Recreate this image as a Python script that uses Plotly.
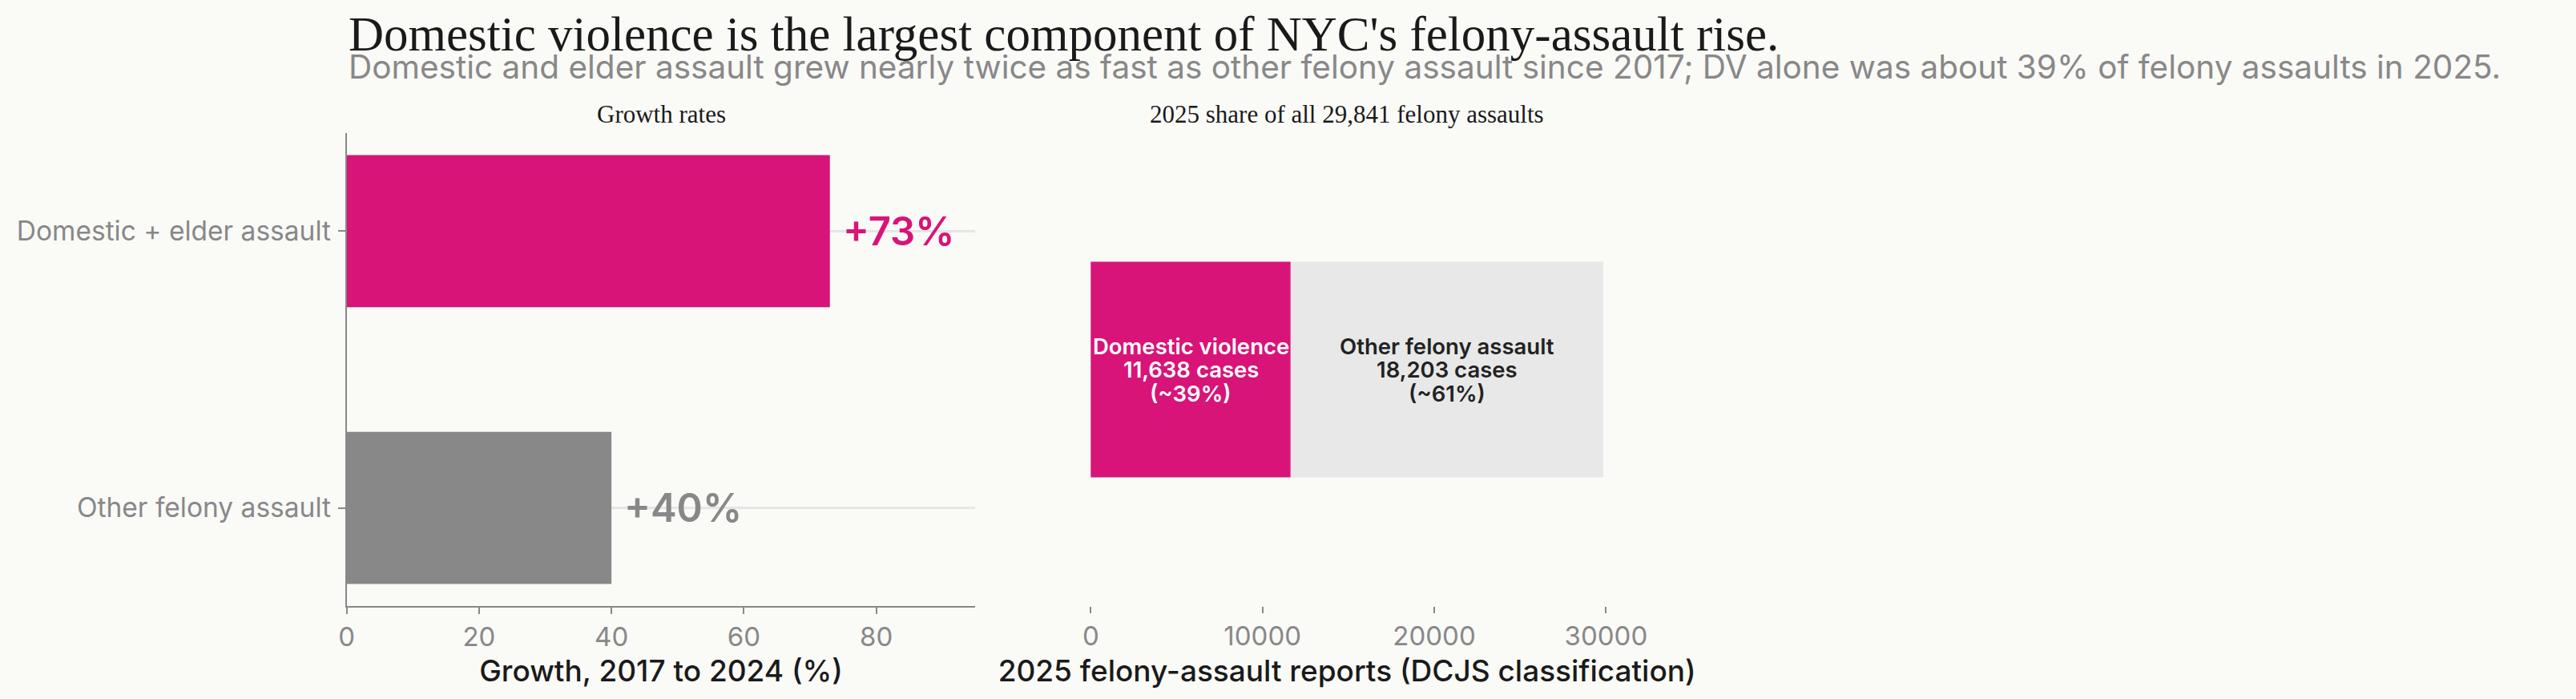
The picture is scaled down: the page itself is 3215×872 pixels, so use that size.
import plotly.graph_objects as go

# Growth 2017 -> 2024
growth_categories = ["Other felony assault", "Domestic + elder assault"]
growth_pct = [40, 73]
growth_labels = ["+40%", "+73%"]

# 2025 composition
share_row = "All 2025 felony assaults"
share_names = ["Domestic violence", "Other felony assault"]
share_counts = [11638, 18203]
share_pct = [39, 61]

MAGENTA = "#D81478"
GREY = "#888888"
LIGHT = "#E8E8E8"
BG = "#FAFAF7"
INK = "#1A1A1A"

# page body keeps its 8px margin, so the figure is a bit smaller than the window
W, H = 3215, 872
OFF = 8
FW, FH = W - 2 * OFF, H - 2 * OFF


def px_x(p):
    return (p - OFF) / FW


def px_y(p):
    return 1 - (p - OFF) / FH


fig = go.Figure()

# left panel: growth rates
fig.add_trace(go.Bar(
    y=growth_categories, x=growth_pct, orientation="h",
    marker=dict(color=[GREY, MAGENTA], line=dict(width=0)),
    width=0.55, xaxis="x", yaxis="y", showlegend=False, hoverinfo="skip",
))

for cat, val, lab, col in zip(growth_categories, growth_pct, growth_labels, [GREY, MAGENTA]):
    fig.add_annotation(
        x=val, y=cat, xref="x", yref="y", text=lab, showarrow=False,
        xanchor="left", yanchor="middle", xshift=14,
        font=dict(family="Inter", size=49, color=col, weight=600),
    )

# right panel: stacked share bar
share_colors = [MAGENTA, LIGHT]
share_text_colors = ["white", "#222222"]
start = 0
for name, cnt, pct, col, tcol in zip(share_names, share_counts, share_pct, share_colors, share_text_colors):
    fig.add_trace(go.Bar(
        y=[share_row], x=[cnt], base=[start], orientation="h",
        marker=dict(color=col, line=dict(width=0)), width=0.456,
        xaxis="x2", yaxis="y2", showlegend=False, hoverinfo="skip",
    ))
    # three label lines, tighter spacing than plotly's <br>
    lines = [name, f"{cnt:,} cases", f"(~{pct}%)"]
    for i, line in enumerate(lines):
        fig.add_annotation(
            x=start + cnt / 2, y=share_row, xref="x2", yref="y2",
            text=line, showarrow=False, xanchor="center", yanchor="middle",
            yshift=(1 - i) * 29.5,
            font=dict(family="Inter", size=27.5, color=tcol, weight=600),
        )
    start += cnt

total = sum(share_counts)

tick_font = dict(family="Inter", size=33, color=GREY)
axis_title_font = dict(family="Inter", size=37, color=INK, weight=500)

fig.update_layout(
    width=FW, height=FH,
    margin=dict(l=0, r=0, t=0, b=0),
    paper_bgcolor=BG, plot_bgcolor=BG,
    barmode="overlay",
    font=dict(family="Inter", color=GREY, size=30),
    xaxis=dict(
        domain=[px_x(427), px_x(1220)], range=[0, 95], anchor="y",
        tickvals=[0, 20, 40, 60, 80], showgrid=False, zeroline=False,
        showline=True, linecolor=GREY, linewidth=2,
        ticks="outside", ticklen=8, tickwidth=2, tickcolor=GREY,
        tickfont=tick_font,
        title=dict(text="Growth, 2017 to 2024 (%)", font=axis_title_font, standoff=12),
    ),
    yaxis=dict(
        domain=[px_y(756), px_y(166)], range=[-0.355, 1.355], anchor="x",
        showgrid=True, gridcolor="#E6E6E6", gridwidth=3, zeroline=False,
        showline=True, linecolor=GREY, linewidth=2,
        ticks="outside", ticklen=9, tickwidth=2, tickcolor=GREY,
        ticklabelstandoff=2, tickfont=dict(family="Inter", size=33.5, color=GREY),
    ),
    xaxis2=dict(
        domain=[px_x(1333), px_x(2044)], range=[-0.05 * total, 1.05 * total], anchor="y2",
        tickvals=[0, 10000, 20000, 30000], tickformat="d", showgrid=False, zeroline=False,
        showline=False, ticks="outside", ticklen=8, tickwidth=2, tickcolor=GREY,
        tickfont=tick_font,
        title=dict(text="2025 felony-assault reports (DCJS classification)", font=axis_title_font, standoff=12),
    ),
    yaxis2=dict(
        type="category",
        domain=[px_y(756), px_y(166)], range=[-0.5, 0.5], anchor="x2",
        showticklabels=False, showgrid=False, zeroline=False, showline=False, ticks="",
    ),
)

# titles
fig.add_annotation(
    x=px_x(427), y=px_y(42), xref="paper", yref="paper", xanchor="left", yanchor="middle",
    text="Domestic violence is the largest component of NYC's felony-assault rise.",
    showarrow=False, font=dict(family="Liberation Serif", size=61, color=INK),
)
fig.add_annotation(
    x=px_x(427), y=px_y(84), xref="paper", yref="paper", xanchor="left", yanchor="middle",
    text="Domestic and elder assault grew nearly twice as fast as other felony assault since 2017; DV alone was about 39% of felony assaults in 2025.",
    showarrow=False, font=dict(family="Inter", size=40.5, color=GREY),
)
fig.add_annotation(
    x=(px_x(427) + px_x(1220)) / 2, y=px_y(142), xref="paper", yref="paper",
    xanchor="center", yanchor="middle", text="Growth rates",
    showarrow=False, font=dict(family="Liberation Serif", size=31, color=INK),
)
fig.add_annotation(
    x=(px_x(1333) + px_x(2044)) / 2, y=px_y(142), xref="paper", yref="paper",
    xanchor="center", yanchor="middle", text=f"2025 share of all {total:,} felony assaults",
    showarrow=False, font=dict(family="Liberation Serif", size=31, color=INK),
)

# paint the page margin in the same off-white as the figure
fig.write_html("out.html", post_script=f"document.body.style.backgroundColor = '{BG}';")
